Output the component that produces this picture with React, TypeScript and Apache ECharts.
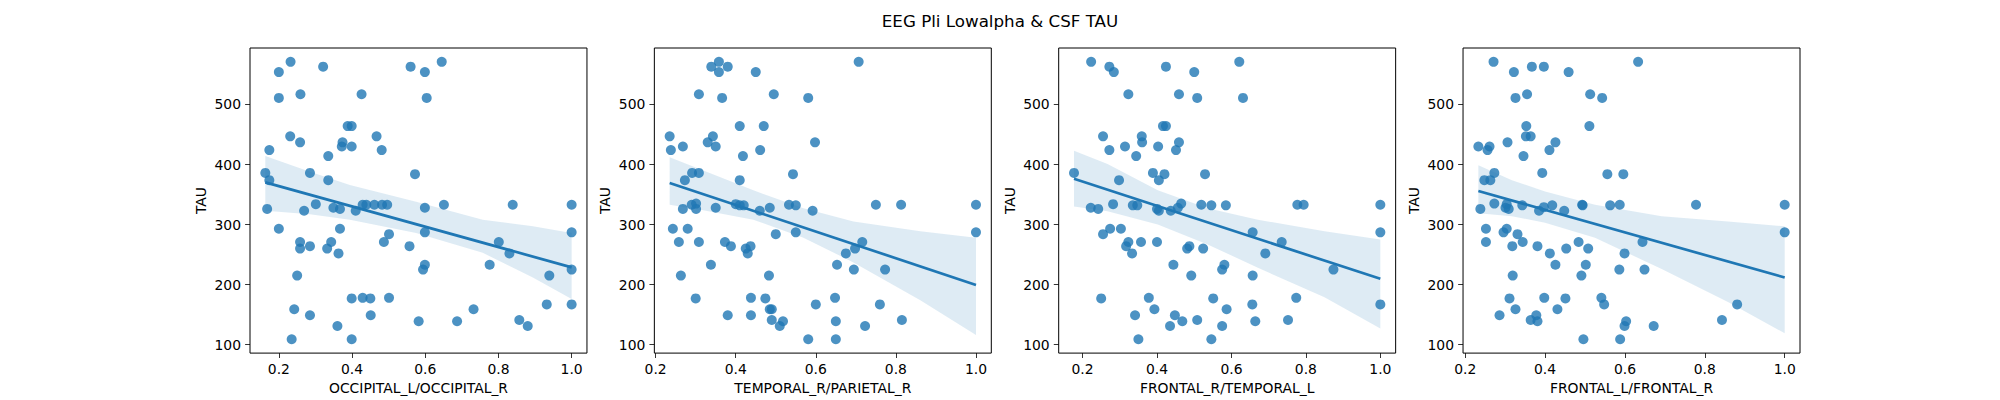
import { useEffect, useRef } from "react";
import * as echarts from "echarts";

const TITLE = "EEG Pli Lowalpha & CSF TAU";
const X_NAMES = [
  "OCCIPITAL_L/OCCIPITAL_R",
  "TEMPORAL_R/PARIETAL_R",
  "FRONTAL_R/TEMPORAL_L",
  "FRONTAL_L/FRONTAL_R",
];
const X_TICKS = [0.2, 0.4, 0.6, 0.8, 1.0];
const Y_TICKS = [100, 200, 300, 400, 500];

// OCCIPITAL_L/OCCIPITAL_R
const occX = [
  0.232, 0.2, 0.321, 0.56, 0.599, 0.645, 0.2, 0.259, 0.426, 0.604, 0.388, 0.399, 0.231, 0.258,
  0.374, 0.372, 0.399, 0.467, 0.174, 0.481, 0.335, 0.163, 0.285, 0.572, 0.174, 0.335, 0.168,
  0.269, 0.301, 0.349, 0.367, 0.41, 0.429, 0.439, 0.461, 0.482, 0.496, 0.599, 0.651, 0.839, 1.0,
  0.2, 0.367, 0.501, 0.599, 1.0, 0.258, 0.258, 0.285, 0.343, 0.332, 0.363, 0.487, 0.557, 0.801,
  0.83, 0.599, 0.594, 0.776, 1.0, 0.25, 0.939, 0.399, 0.429, 0.45, 0.501, 0.932, 1.0, 0.242,
  0.285, 0.451, 0.732, 0.36, 0.582, 0.687, 0.857, 0.88, 0.235, 0.399,
];
const occTau = [
  571, 554, 563, 563, 554, 571, 511, 517, 517, 511, 464, 464, 447, 437, 437, 430, 430, 447, 424,
  424, 414, 386, 386, 384, 374, 374, 326, 323, 334, 328, 326, 323, 333, 333, 333, 333, 333, 328,
  333, 333, 333, 293, 293, 284, 287, 287, 271, 260, 264, 271, 260, 252, 271, 264, 271, 252, 233,
  225, 233, 225, 215, 215, 177, 178, 177, 178, 167, 167, 159, 149, 149, 159, 131, 139, 139, 141,
  131, 109, 109,
];

// TEMPORAL_R/PARIETAL_R
const tempX = [
  0.358, 0.339, 0.38, 0.358, 0.45, 0.707, 0.308, 0.366, 0.495, 0.581, 0.41, 0.47, 0.235, 0.343,
  0.33, 0.35, 0.268, 0.238, 0.461, 0.598, 0.418, 0.291, 0.308, 0.543, 0.273, 0.41, 0.268, 0.29,
  0.301, 0.301, 0.35, 0.4, 0.41, 0.42, 0.46, 0.485, 0.533, 0.55, 0.592, 0.75, 0.813, 1.0, 0.243,
  0.28, 0.5, 0.55, 1.0, 0.258, 0.308, 0.373, 0.388, 0.425, 0.437, 0.43, 0.716, 0.698, 0.675,
  0.338, 0.653, 0.695, 0.773, 0.263, 0.483, 0.3, 0.438, 0.474, 0.648, 0.6, 0.76, 0.485, 0.49,
  0.38, 0.438, 0.49, 0.518, 0.51, 0.65, 0.723, 0.815, 0.581, 0.65,
];
const tempTau = [
  571, 563, 563, 554, 554, 571, 517, 511, 517, 511, 464, 464, 447, 447, 437, 430, 430, 424, 424,
  437, 414, 386, 386, 384, 374, 374, 326, 333, 335, 326, 328, 334, 332, 332, 323, 328, 333, 332,
  323, 333, 333, 333, 293, 293, 284, 287, 287, 271, 271, 271, 264, 260, 264, 252, 271, 260, 252,
  233, 233, 225, 225, 215, 215, 177, 178, 177, 178, 167, 167, 159, 159, 149, 149, 141, 139, 131,
  139, 131, 141, 109, 109,
];

// FRONTAL_R/TEMPORAL_L
const frtX = [
  0.223, 0.272, 0.284, 0.424, 0.5, 0.621, 0.323, 0.459, 0.508, 0.631, 0.416, 0.424, 0.255, 0.359,
  0.36, 0.314, 0.403, 0.459, 0.272, 0.451, 0.344, 0.177, 0.389, 0.42, 0.529, 0.298, 0.405,
  0.222, 0.242, 0.282, 0.335, 0.347, 0.4, 0.405, 0.437, 0.456, 0.465, 0.519, 0.546, 0.585, 0.777,
  0.794, 1.0, 0.255, 0.274, 0.303, 0.657, 1.0, 0.323, 0.317, 0.333, 0.357, 0.4, 0.481, 0.487,
  0.524, 0.735, 0.691, 0.444, 0.575, 0.581, 0.492, 0.657, 0.874, 0.25, 0.378, 0.551, 0.774,
  0.393, 0.587, 0.656, 1.0, 0.341, 0.448, 0.468, 0.435, 0.508, 0.575, 0.664, 0.752, 0.35, 0.546,
];
const frtTau = [
  571, 563, 554, 563, 554, 571, 517, 517, 511, 511, 464, 464, 447, 447, 437, 430, 430, 437, 424,
  424, 414, 386, 386, 384, 384, 374, 374, 328, 326, 334, 332, 332, 326, 323, 323, 328, 335, 333,
  332, 332, 333, 333, 333, 284, 293, 293, 287, 287, 271, 264, 252, 271, 271, 260, 264, 260, 271,
  252, 233, 225, 233, 215, 215, 225, 177, 178, 177, 178, 159, 159, 167, 167, 149, 149, 139, 131,
  141, 131, 139, 141, 109, 109,
];

// FRONTAL_L/FRONTAL_R
const frfX = [
  0.271, 0.322, 0.367, 0.397, 0.459, 0.633, 0.326, 0.355, 0.513, 0.543, 0.353, 0.511, 0.352,
  0.364, 0.306, 0.426, 0.233, 0.261, 0.256, 0.411, 0.346, 0.273, 0.393, 0.556, 0.596, 0.248,
  0.263, 0.238, 0.273, 0.301, 0.304, 0.309, 0.343, 0.385, 0.397, 0.418, 0.448, 0.493, 0.494,
  0.563, 0.587, 0.778, 1.0, 0.252, 0.296, 0.304, 0.331, 1.0, 0.252, 0.318, 0.344, 0.381, 0.412,
  0.453, 0.484, 0.508, 0.644, 0.599, 0.426, 0.502, 0.586, 0.649, 0.319, 0.491, 0.311, 0.398,
  0.451, 0.541, 0.548, 0.881, 0.326, 0.431, 0.286, 0.378, 0.364, 0.381, 0.603, 0.599, 0.672,
  0.843, 0.496, 0.588,
];
const frfTau = [
  571, 554, 563, 563, 554, 571, 511, 517, 517, 511, 464, 464, 447, 447, 437, 437, 430, 430, 424,
  424, 414, 386, 386, 384, 384, 374, 374, 326, 335, 328, 334, 326, 332, 323, 329, 332, 323, 333,
  332, 332, 333, 333, 333, 293, 287, 293, 284, 287, 271, 264, 271, 264, 252, 260, 271, 260, 271,
  252, 233, 233, 225, 225, 215, 215, 177, 178, 177, 178, 167, 167, 159, 159, 149, 149, 141, 139,
  139, 131, 131, 141, 109, 109,
];

// 95% confidence band of the fit
const occBandX = [0.163, 0.285, 0.394, 0.575, 0.757, 0.894, 1.0];
const occBandLo = [323, 317, 308, 286, 253, 212, 176];
const occBandHi = [414, 388, 366, 338, 308, 297, 286];
const tempBandX = [0.235, 0.319, 0.444, 0.569, 0.694, 0.861, 1.0];
const tempBandLo = [333, 324, 308, 278, 237, 174, 116];
const tempBandHi = [412, 390, 357, 327, 305, 289, 278];
const frtBandX = [0.177, 0.267, 0.402, 0.536, 0.671, 0.85, 1.0];
const frtBandLo = [330, 322, 300, 267, 228, 179, 127];
const frtBandHi = [423, 401, 357, 327, 308, 289, 275];
const frfBandX = [0.233, 0.317, 0.4, 0.525, 0.692, 0.858, 1.0];
const frfBandLo = [319, 314, 303, 278, 226, 171, 119];
const frfBandHi = [399, 374, 355, 333, 314, 305, 297];

const PANELS = [
  { x: occX, y: occTau, bx: occBandX, lo: occBandLo, hi: occBandHi },
  { x: tempX, y: tempTau, bx: tempBandX, lo: tempBandLo, hi: tempBandHi },
  { x: frtX, y: frtTau, bx: frtBandX, lo: frtBandLo, hi: frtBandHi },
  { x: frfX, y: frfTau, bx: frfBandX, lo: frfBandLo, hi: frfBandHi },
];

const BLUE = "#1f77b4";
const FONT = "DejaVu Sans";

const fit = (xs: number[], ys: number[]) => {
  const n = xs.length;
  const mx = xs.reduce((a, b) => a + b, 0) / n;
  const my = ys.reduce((a, b) => a + b, 0) / n;
  let sxy = 0;
  let sxx = 0;
  xs.forEach((x, i) => {
    sxy += (x - mx) * (ys[i] - my);
    sxx += (x - mx) * (x - mx);
  });
  const slope = sxy / sxx;
  return { slope, intercept: my - slope * mx };
};

const padded = (vals: number[]) => {
  const lo = Math.min(...vals);
  const hi = Math.max(...vals);
  const pad = (hi - lo) * 0.05;
  return [lo - pad, hi + pad];
};

const App = () => {
  const chartRef = useRef<HTMLDivElement>(null);

  useEffect(() => {
    if (!chartRef.current) return;
    document.body.style.margin = "0";
    const chart = echarts.init(chartRef.current, undefined, { renderer: "svg" });

    const axW = 1550 / 4.6;
    const gap = axW * 0.2;
    const [yMin, yMax] = padded(PANELS.flatMap((p) => p.y));

    const grid = PANELS.map((_, i) => ({
      left: 250 + i * (axW + gap),
      top: 48,
      width: axW,
      height: 308,
      show: true,
      borderColor: "#000",
      borderWidth: 1,
      backgroundColor: "transparent",
    }));

    const tickStyle = { color: "#000", width: 0.8 };
    const labelStyle = { fontSize: 13.9, color: "#000", fontFamily: FONT };

    const xAxis = PANELS.map((p, i) => {
      const [min, max] = padded(p.x);
      return {
        type: "value",
        gridIndex: i,
        min,
        max,
        name: X_NAMES[i],
        nameLocation: "middle",
        nameGap: 27,
        nameTextStyle: labelStyle,
        axisLine: { show: false },
        axisTick: { show: true, length: 4.9, lineStyle: tickStyle, customValues: X_TICKS },
        axisLabel: {
          ...labelStyle,
          margin: 9,
          customValues: X_TICKS,
          formatter: (v: number) => v.toFixed(1),
        },
        splitLine: { show: false },
      };
    });

    const yAxis = PANELS.map((_, i) => ({
      type: "value",
      gridIndex: i,
      min: yMin,
      max: yMax,
      name: "TAU",
      nameLocation: "middle",
      nameGap: 42,
      nameTextStyle: labelStyle,
      axisLine: { show: false },
      axisTick: { show: true, length: 4.9, lineStyle: tickStyle, customValues: Y_TICKS },
      axisLabel: {
        ...labelStyle,
        margin: 9,
        customValues: Y_TICKS,
        formatter: (v: number) => String(v),
      },
      splitLine: { show: false },
    }));

    const series: any[] = [];
    PANELS.forEach((p, i) => {
      series.push({
        type: "scatter",
        xAxisIndex: i,
        yAxisIndex: i,
        data: p.x.map((x, k) => [x, p.y[k]]),
        symbolSize: 10,
        itemStyle: { color: BLUE, opacity: 0.8 },
        z: 2,
      });
      series.push({
        type: "custom",
        xAxisIndex: i,
        yAxisIndex: i,
        silent: true,
        data: p.bx.map((x, k) => [x, p.lo[k], p.hi[k]]),
        encode: { x: 0, y: [1, 2] },
        renderItem: (params: any, api: any) => {
          if (params.dataIndex !== 0) return null;
          const upper = p.bx.map((x, k) => api.coord([x, p.hi[k]]));
          const lower = p.bx.map((x, k) => api.coord([x, p.lo[k]])).reverse();
          return {
            type: "polygon",
            shape: { points: [...upper, ...lower] },
            style: { fill: "rgba(31,119,180,0.15)" },
          };
        },
        z: 3,
      });
      const { slope, intercept } = fit(p.x, p.y);
      const x0 = Math.min(...p.x);
      const x1 = Math.max(...p.x);
      series.push({
        type: "line",
        xAxisIndex: i,
        yAxisIndex: i,
        data: [
          [x0, intercept + slope * x0],
          [x1, intercept + slope * x1],
        ],
        symbol: "none",
        lineStyle: { color: BLUE, width: 2.7 },
        z: 4,
      });
    });

    chart.setOption({
      animation: false,
      title: {
        text: TITLE,
        left: "center",
        top: 7,
        textStyle: { fontSize: 16.7, fontWeight: "normal", color: "#000", fontFamily: FONT },
      },
      grid,
      xAxis,
      yAxis,
      series,
    });

    return () => chart.dispose();
  }, []);

  return <div ref={chartRef} style={{ width: 2000, height: 400 }} />;
};

export default App;
